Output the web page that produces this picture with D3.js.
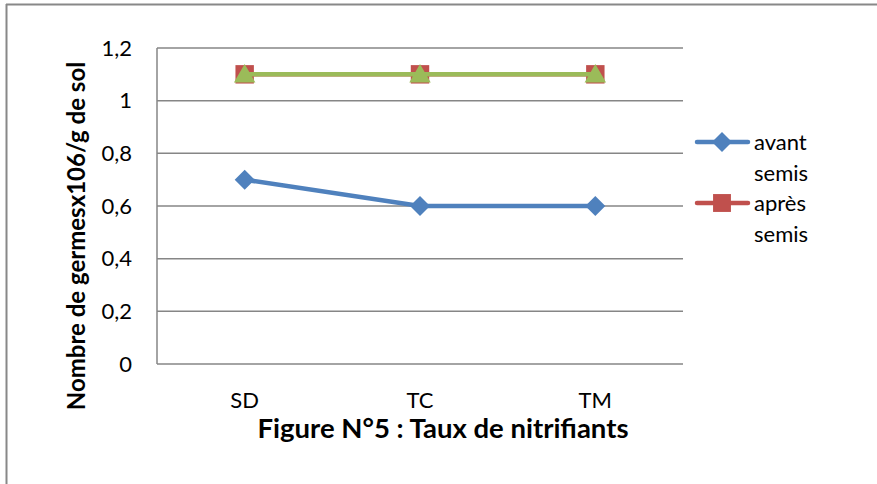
<!DOCTYPE html>
<html>
<head>
<meta charset="utf-8">
<script src="https://cdn.jsdelivr.net/npm/d3@7"></script>
<style>
  body { margin: 0; background: #fff; }
  svg { display: block; font-family: Lato, "Open Sans", sans-serif; }
</style>
</head>
<body>
<svg width="877" height="484"></svg>
<script>
const categories = ["SD", "TC", "TM"];
const avantSemis = [0.7, 0.6, 0.6];
const apresSemis = [1.1, 1.1, 1.1];
const troisieme = [1.1, 1.1, 1.1];
const yTicks = [0, 0.2, 0.4, 0.6, 0.8, 1, 1.2];

const svg = d3.select("svg");

// frame (top + left edges only visible)
svg.append("line").attr("x1", 6).attr("x2", 877).attr("y1", 4.5).attr("y2", 4.5)
  .attr("stroke", "#888").attr("stroke-width", 2);
svg.append("line").attr("x1", 6.5).attr("x2", 6.5).attr("y1", 4).attr("y2", 484)
  .attr("stroke", "#888").attr("stroke-width", 2);

const plot = {left: 157, right: 683, top: 48, bottom: 364};

const x = d3.scalePoint().domain(categories).range([plot.left, plot.right]).padding(0.5);
const y = d3.scaleLinear().domain([0, 1.2]).range([plot.bottom, plot.top]);

// gridlines
svg.append("g").selectAll("line").data(yTicks).enter().append("line")
  .attr("x1", plot.left).attr("x2", plot.right)
  .attr("y1", d => y(d)).attr("y2", d => y(d))
  .attr("stroke", "#868686").attr("stroke-width", 1.5);

svg.append("line").attr("x1", plot.left).attr("x2", plot.left)
  .attr("y1", plot.top).attr("y2", plot.bottom)
  .attr("stroke", "#868686").attr("stroke-width", 1.5);

// y axis labels
const fmt = d => d3.format("~g")(d).replace(".", ",");
svg.append("g").selectAll("text").data(yTicks).enter().append("text")
  .attr("x", 132).attr("y", d => y(d)).attr("dy", "0.35em")
  .attr("text-anchor", "end").attr("font-size", 22).attr("fill", "#000")
  .text(fmt);

// x labels
svg.append("g").selectAll("text").data(categories).enter().append("text")
  .attr("x", d => x(d)).attr("y", 408)
  .attr("text-anchor", "middle").attr("font-size", 22).attr("fill", "#000")
  .text(d => d);

// y axis title
svg.append("text")
  .attr("transform", "translate(85,236) rotate(-90)")
  .attr("text-anchor", "middle").attr("font-size", 24).attr("font-weight", "bold")
  .text("Nombre de germesx106/g de sol");

// chart title
svg.append("text")
  .attr("x", 443).attr("y", 438)
  .attr("text-anchor", "middle").attr("font-size", 27.5).attr("font-weight", "bold")
  .text("Figure N°5 : Taux de nitrifiants");

const diamond = d3.symbol().type(d3.symbolSquare).size(200);

const series = [
  {name: "avant semis", values: avantSemis, color: "#4F81BD", symbol: "diamond", size: 200},
  {name: "après semis", values: apresSemis, color: "#C0504D", symbol: d3.symbolSquare, size: 340},
  {name: "", values: troisieme, color: "#9BBB59", symbol: d3.symbolTriangle, size: 200}
];

const line = d3.line().x((d, i) => x(categories[i])).y(d => y(d));

function markerPath(sym, size) {
  if (sym === "diamond") return d3.symbol().type(d3.symbolSquare).size(size)();
  return d3.symbol().type(sym).size(size)();
}
function markerRot(sym) { return sym === "diamond" ? " rotate(45)" : ""; }

series.forEach(s => {
  const g = svg.append("g");
  g.append("path").datum(s.values)
    .attr("d", line).attr("fill", "none")
    .attr("stroke", s.color).attr("stroke-width", 4.5).attr("stroke-linejoin", "round");
  g.selectAll("path.m").data(s.values).enter().append("path").attr("class", "m")
    .attr("transform", (d, i) => `translate(${x(categories[i])},${y(d) + (s.symbol === d3.symbolTriangle ? 2 : 0)})` + markerRot(s.symbol))
    .attr("d", markerPath(s.symbol, s.size))
    .attr("fill", s.color);
});

// legend
const legendItems = [
  {lines: ["avant", "semis"], color: "#4F81BD", symbol: "diamond", size: 200, y: 142},
  {lines: ["après", "semis"], color: "#C0504D", symbol: d3.symbolSquare, size: 320, y: 203}
];
legendItems.forEach(item => {
  const g = svg.append("g");
  g.append("line").attr("x1", 697).attr("x2", 748).attr("y1", item.y).attr("y2", item.y)
    .attr("stroke", item.color).attr("stroke-width", 4.5).attr("stroke-linecap", "round");
  g.append("path").attr("transform", `translate(722,${item.y})` + markerRot(item.symbol))
    .attr("d", markerPath(item.symbol, item.size)).attr("fill", item.color);
  item.lines.forEach((t, i) => {
    g.append("text").attr("x", 754).attr("y", item.y + i * 31).attr("dy", "0.35em")
      .attr("font-size", 22).text(t);
  });
});
</script>
</body>
</html>
